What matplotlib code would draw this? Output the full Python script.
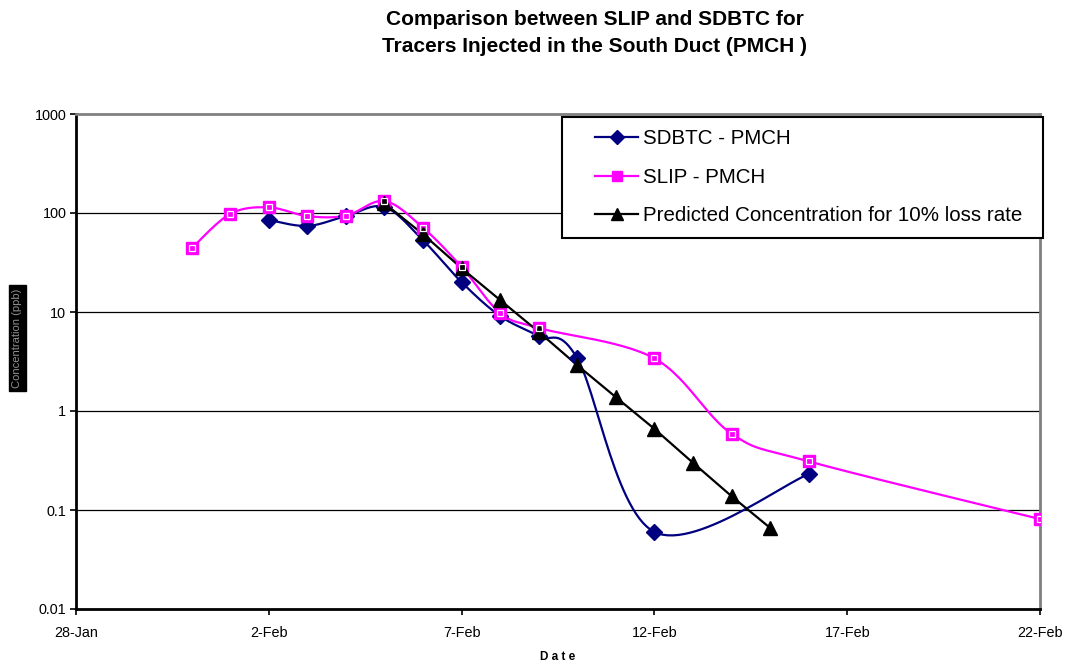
import numpy as np
import matplotlib
matplotlib.use("Agg")
import matplotlib.pyplot as plt
import matplotlib.dates as mdates
from matplotlib.ticker import FixedLocator, FuncFormatter
from matplotlib.lines import Line2D
from matplotlib.patches import Rectangle
import datetime as dt

plt.rcParams['font.family'] = ['Liberation Sans', 'DejaVu Sans']

# ---- data ----
sdbtc_dates = ["2001-02-02", "2001-02-03", "2001-02-04", "2001-02-05", "2001-02-06",
               "2001-02-07", "2001-02-08", "2001-02-09", "2001-02-10", "2001-02-12",
               "2001-02-16"]
sdbtc_vals = [85, 74, 93, 115, 53, 20, 9.1, 5.7, 3.4, 0.06, 0.23]

slip_dates = ["2001-01-31", "2001-02-01", "2001-02-02", "2001-02-03", "2001-02-04",
              "2001-02-05", "2001-02-06", "2001-02-07", "2001-02-08", "2001-02-09",
              "2001-02-12", "2001-02-14", "2001-02-16", "2001-02-22"]
slip_vals = [44, 98, 114, 93, 94, 132, 71, 28.5, 9.8, 6.9, 3.4, 0.59, 0.31, 0.081]

pred_dates = ["2001-02-05", "2001-02-06", "2001-02-07", "2001-02-08", "2001-02-09",
              "2001-02-10", "2001-02-11", "2001-02-12", "2001-02-13", "2001-02-14",
              "2001-02-15"]
pred_vals = [125, 61, 27.7, 13.2, 6.3, 2.9, 1.38, 0.66, 0.30, 0.138, 0.066]

xtick_dates = ["2001-01-28", "2001-02-02", "2001-02-07", "2001-02-12", "2001-02-17", "2001-02-22"]
ytick_vals = [0.01, 0.1, 1, 10, 100, 1000]
ytick_labels = ["0.01", "0.1", "1", "10", "100", "1000"]

labels = ["SDBTC - PMCH", "SLIP - PMCH", "Predicted Concentration for 10% loss rate"]
title = "Comparison between SLIP and SDBTC for\nTracers Injected in the South Duct (PMCH )"


def to_num(ds):
    return np.array([mdates.date2num(dt.datetime.strptime(d, "%Y-%m-%d")) for d in ds])


def smooth(x, y, n=30):
    """Excel-style smoothed line (Catmull-Rom bezier) in x / log10(y) space."""
    x = np.asarray(x, float)
    ly = np.log10(np.asarray(y, float))
    P = np.column_stack([x, ly])
    out = []
    for i in range(len(P) - 1):
        p0 = P[i]
        p3 = P[i + 1]
        pm = P[i - 1] if i > 0 else P[i]
        pn = P[i + 2] if i + 2 < len(P) else P[i + 1]
        c1 = p0 + (p3 - pm) / 6.0
        c2 = p3 - (pn - p0) / 6.0
        t = np.linspace(0, 1, n)[:, None]
        seg = ((1 - t) ** 3) * p0 + 3 * ((1 - t) ** 2) * t * c1 + 3 * (1 - t) * t ** 2 * c2 + t ** 3 * p3
        out.append(seg if i == 0 else seg[1:])
    out = np.vstack(out)
    return out[:, 0], 10 ** out[:, 1]


W, H = 1065, 665
fig = plt.figure(figsize=(10.65, 6.65), dpi=100)
ax = fig.add_axes([76 / W, 1 - 609 / H, (1040 - 76) / W, (609 - 114) / H])

ax.set_yscale('log')
ax.set_ylim(0.01, 1000)
ax.set_xlim(to_num(["2001-01-28"])[0], to_num(["2001-02-22"])[0])

for v in ytick_vals[1:-1]:
    ax.axhline(v, color='black', lw=0.9, zorder=1)

navy = '#000080'
mag = '#FF00FF'

xs, ys = to_num(sdbtc_dates), np.array(sdbtc_vals)
sx, sy = smooth(xs, ys)
ax.plot(sx, sy, color=navy, lw=1.6, zorder=3)
ax.plot(xs, ys, ls='none', marker='D', ms=8, color=navy, zorder=4)

xs2, ys2 = to_num(slip_dates), np.array(slip_vals)
sx2, sy2 = smooth(xs2, ys2)
ax.plot(sx2, sy2, color=mag, lw=1.6, zorder=3)
ax.plot(xs2, ys2, ls='none', marker='s', ms=9, mfc=mag, mec=mag, zorder=4)
ax.plot(xs2, ys2, ls='none', marker='s', ms=5, mfc='none', mec='white', mew=0.9, zorder=5)

xs3, ys3 = to_num(pred_dates), np.array(pred_vals)
ax.plot(xs3, ys3, color='black', lw=1.6, zorder=3)
ax.plot(xs3, ys3, ls='none', marker='^', ms=10.5, color='black', zorder=4)

# legend
h1 = Line2D([], [], color=navy, lw=1.6, marker='D', ms=7)
h2 = Line2D([], [], color=mag, lw=1.6, marker='s', ms=7, mfc=mag, mec=mag)
h3 = Line2D([], [], color='black', lw=1.6, marker='^', ms=9)
leg = fig.legend([h1, h2, h3], labels, loc='upper left',
                 bbox_to_anchor=(595 / W, 1 - 129 / H), borderaxespad=0, borderpad=0,
                 fontsize=14.8, frameon=False, handlelength=2.1,
                 labelspacing=0.96, handletextpad=0.25)
fig.add_artist(Rectangle((562 / W, 1 - 238 / H), (1043 - 562) / W, (238 - 117) / H,
                         transform=fig.transFigure, fc='white', ec='black', lw=1.5, zorder=2))
leg.set_zorder(3)

ax.xaxis.set_major_locator(FixedLocator(to_num(xtick_dates)))
ax.xaxis.set_major_formatter(FuncFormatter(
    lambda v, p: "%d-%s" % (mdates.num2date(v).day, mdates.num2date(v).strftime("%b"))))
ax.yaxis.set_major_locator(FixedLocator(ytick_vals))
ax.yaxis.set_minor_locator(FixedLocator([]))
ax.set_yticklabels(ytick_labels)
ax.tick_params(axis='both', labelsize=10.4, direction='out', length=4, width=1.2, colors='black')
ax.tick_params(axis='x', pad=8)
ax.tick_params(axis='y', pad=3)

for s in ['left', 'bottom']:
    ax.spines[s].set_linewidth(2)
    ax.spines[s].set_color('black')
for s in ['top', 'right']:
    ax.spines[s].set_linewidth(2)
    ax.spines[s].set_color('#808080')

fig.text(595 / W, 1 - 33 / H, title, ha='center', va='center', fontsize=15,
         fontweight='bold', linespacing=1.55)
fig.text(558 / W, 1 - 657 / H, "D a t e", ha='center', va='center', fontsize=8.5,
         fontweight='bold')
fig.text(17.5 / W, 1 - 338 / H, "Concentration (ppb)", ha='center', va='center', rotation=90,
         fontsize=8, color='#909090',
         bbox=dict(boxstyle='square,pad=0.3', fc='black', ec='black'))

fig.savefig("out.png", dpi=100)
